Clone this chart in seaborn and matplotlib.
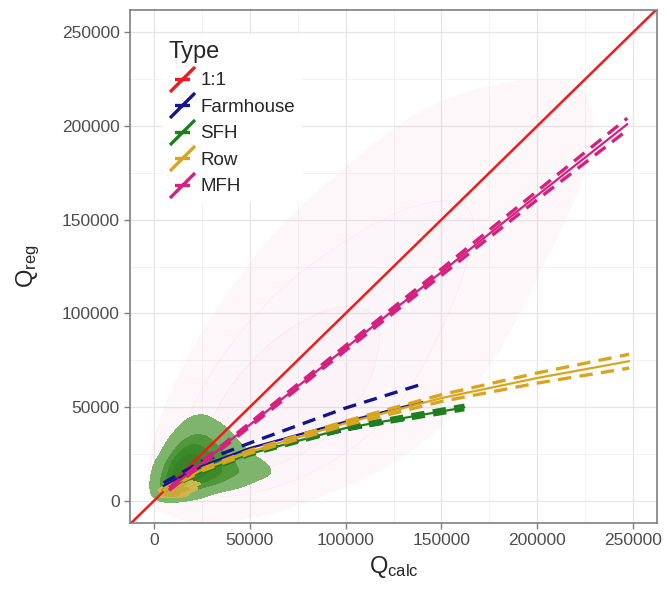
import numpy as np
import pandas as pd
import seaborn as sns
import matplotlib.pyplot as plt
from matplotlib.path import Path
from matplotlib.lines import Line2D
from matplotlib.ticker import MultipleLocator

sns.set_theme(style="white")
plt.rcParams['font.family'] = ['Liberation Sans', 'DejaVu Sans']

# regression lines (x, fit, lower, upper)
farm_x = [5000, 25000, 50000, 100000, 140000]
farm_fit = [8000, 18500, 28100, 42200, 52700]
farm_lo = [7000, 16500, 25800, 37800, 45500]
farm_hi = [9500, 21000, 30800, 49500, 62300]

sfh_x = [5000, 25000, 50000, 100000, 162000]
sfh_fit = [5500, 15500, 25000, 38800, 49800]
sfh_lo = [5100, 15000, 24400, 38000, 48600]
sfh_hi = [5900, 16000, 25600, 39600, 51000]

row_x = [5000, 25000, 50000, 100000, 150000, 200000, 248000]
row_fit = [5700, 16500, 26100, 41400, 54800, 65500, 74500]
row_lo = [5100, 15900, 25300, 40300, 53000, 62800, 70800]
row_hi = [6300, 17100, 26900, 42500, 56600, 68200, 78200]

mfh_x = [8000, 50000, 100000, 150000, 200000, 247000]
mfh_fit = [6300, 40500, 81500, 122000, 163000, 201000]
mfh_lo = [5600, 39500, 80200, 120300, 160700, 197800]
mfh_hi = [7000, 41500, 82800, 123700, 165300, 204200]

one_x = [-20000, 270000]

types = ['1:1', 'Farmhouse', 'SFH', 'Row', 'MFH']
colors = {'1:1': '#EE1C1C', 'Farmhouse': '#14148C', 'SFH': '#1F7F1F',
          'Row': '#D9A521', 'MFH': '#D4207F'}

# point clouds, read as binned densities (rows = y bins, cols = x bins)
mfh_cloud_x = [25000, 50000, 75000, 100000, 125000, 150000, 175000, 200000, 225000]
mfh_cloud_y = [25000, 50000, 75000, 100000, 125000, 150000, 175000, 200000, 225000]
mfh_cloud = [
    [0.6, 1.0, 0.7, 0.3, 0.15, 0.05, 0, 0, 0],
    [0.4, 0.9, 0.9, 0.6, 0.3, 0.15, 0.05, 0, 0],
    [0.15, 0.5, 0.7, 0.6, 0.4, 0.2, 0.1, 0.05, 0],
    [0.05, 0.25, 0.45, 0.5, 0.45, 0.3, 0.15, 0.08, 0.03],
    [0, 0.1, 0.25, 0.35, 0.4, 0.35, 0.2, 0.1, 0.05],
    [0, 0.05, 0.12, 0.2, 0.3, 0.3, 0.25, 0.15, 0.08],
    [0, 0, 0.05, 0.1, 0.18, 0.22, 0.25, 0.2, 0.12],
    [0, 0, 0, 0.05, 0.1, 0.15, 0.18, 0.2, 0.15],
    [0, 0, 0, 0, 0.05, 0.08, 0.1, 0.12, 0.1],
]

sfh_cloud_x = [5000, 10000, 15000, 20000, 25000, 30000, 35000, 40000, 45000, 50000, 55000, 60000, 65000]
sfh_cloud_y = [5000, 10000, 15000, 20000, 25000, 30000, 35000, 40000, 45000]
sfh_cloud = [
    [0.5, 0.7, 0.5, 0.3, 0.15, 0.05, 0, 0, 0, 0, 0, 0, 0],
    [0.6, 1.0, 0.9, 0.85, 0.7, 0.55, 0.4, 0.25, 0.12, 0.05, 0, 0, 0],
    [0.4, 0.9, 1.0, 0.95, 0.9, 0.8, 0.65, 0.5, 0.4, 0.3, 0.18, 0.08, 0.03],
    [0.2, 0.8, 1.0, 0.9, 0.85, 0.75, 0.6, 0.45, 0.3, 0.18, 0.08, 0.03, 0],
    [0, 0.45, 0.8, 0.85, 0.75, 0.6, 0.45, 0.25, 0.12, 0.05, 0, 0, 0],
    [0, 0.15, 0.55, 0.65, 0.6, 0.45, 0.28, 0.12, 0.05, 0, 0, 0, 0],
    [0, 0.03, 0.2, 0.4, 0.4, 0.3, 0.18, 0.06, 0, 0, 0, 0, 0],
    [0, 0, 0.06, 0.2, 0.2, 0.12, 0.06, 0, 0, 0, 0, 0, 0],
    [0, 0, 0, 0.06, 0.08, 0.04, 0, 0, 0, 0, 0, 0, 0],
]

row_cloud_x = [5000, 10000, 15000, 20000, 25000]
row_cloud_y = [3000, 6000, 9000, 12000]
row_cloud = [
    [0.6, 0.8, 0.5, 0.2, 0.05],
    [0.7, 1.0, 0.8, 0.5, 0.2],
    [0.3, 0.6, 0.6, 0.5, 0.3],
    [0.05, 0.2, 0.3, 0.3, 0.2],
]


def cloud_frame(xs, ys, dens):
    gx, gy = np.meshgrid(xs, ys)
    return pd.DataFrame({'x': gx.ravel(), 'y': gy.ravel(),
                         'w': np.asarray(dens, dtype=float).ravel()})


fig = plt.figure(figsize=(6.66, 5.89), dpi=100)
ax = fig.add_axes([0.1952, 0.1126, 0.7913, 0.8697])

pink_cmap = sns.blend_palette(['#F2C6DC', '#E39ABF'], as_cmap=True)
green_cmap = sns.blend_palette(['#A3CA92', '#5E9F48', '#3F8C2C', '#337F22'], as_cmap=True)
row_cmap = sns.blend_palette(['#D2BC55', '#C6A02C'], as_cmap=True)

sns.kdeplot(data=cloud_frame(mfh_cloud_x, mfh_cloud_y, mfh_cloud), x='x', y='y',
            weights='w', fill=True, cmap=pink_cmap, levels=4, thresh=0.12,
            bw_adjust=0.7, alpha=0.12, antialiased=False, ax=ax)
sns.kdeplot(data=cloud_frame(sfh_cloud_x, sfh_cloud_y, sfh_cloud), x='x', y='y',
            weights='w', fill=True, cmap=green_cmap, levels=5, thresh=0.03,
            bw_adjust=0.65, ax=ax)
sns.kdeplot(data=cloud_frame(row_cloud_x, row_cloud_y, row_cloud), x='x', y='y',
            weights='w', fill=True, cmap=row_cmap, levels=3, thresh=0.3,
            bw_adjust=0.6, ax=ax)

sns.lineplot(x=one_x, y=one_x, color=colors['1:1'], lw=1.8, ax=ax)

fits = {
    'Farmhouse': (farm_x, farm_fit, farm_lo, farm_hi),
    'SFH': (sfh_x, sfh_fit, sfh_lo, sfh_hi),
    'Row': (row_x, row_fit, row_lo, row_hi),
    'MFH': (mfh_x, mfh_fit, mfh_lo, mfh_hi),
}
for name in ['Farmhouse', 'SFH', 'Row', 'MFH']:
    xs, fit, lo, hi = fits[name]
    c = colors[name]
    sns.lineplot(x=xs, y=fit, color=c, lw=1.6, ax=ax)
    for band in (lo, hi):
        sns.lineplot(x=xs, y=band, color=c, lw=2.4, ax=ax,
                     linestyle=(0, (4, 2.5)))

ax.set_xlim(-12500, 262500)
ax.set_ylim(-11700, 261700)
ax.xaxis.set_major_locator(MultipleLocator(50000))
ax.yaxis.set_major_locator(MultipleLocator(50000))
ax.xaxis.set_minor_locator(MultipleLocator(25000))
ax.yaxis.set_minor_locator(MultipleLocator(25000))
ax.grid(True, which='major', color='#E6E6E6', lw=0.9)
ax.grid(True, which='minor', color='#F0F0F0', lw=0.6)
ax.set_axisbelow(True)
for s in ax.spines.values():
    s.set_color('#7F7F7F')
    s.set_linewidth(1.2)
ax.tick_params(which='major', direction='out', length=4, width=1,
               color='#7F7F7F', labelcolor='#4D4D4D', labelsize=12.5,
               bottom=True, left=True)
ax.tick_params(which='minor', length=0)
ax.set_xlabel(r'$\mathregular{Q_{calc}}$', fontsize=17, labelpad=4)
ax.set_ylabel(r'$\mathregular{Q_{reg}}$', fontsize=17, labelpad=14)

key = Path([(-1, -1), (1, 1), (-0.6, 0), (0.6, 0)],
           [Path.MOVETO, Path.LINETO, Path.MOVETO, Path.LINETO])
handles = [Line2D([], [], linestyle='None', marker=key, markersize=18,
                  markeredgewidth=2.4, markeredgecolor=colors[t],
                  markerfacecolor='none') for t in types]
leg = ax.legend(handles, types, title='Type', loc='upper left',
                bbox_to_anchor=(0.045, 0.97), fontsize=13.5,
                title_fontsize=17, frameon=True, facecolor='white',
                edgecolor='white', framealpha=1, handlelength=1.4,
                handletextpad=0.3, labelspacing=0.5, borderpad=0.3,
                alignment='left', numpoints=1)

plt.savefig('out.png', dpi=100)
